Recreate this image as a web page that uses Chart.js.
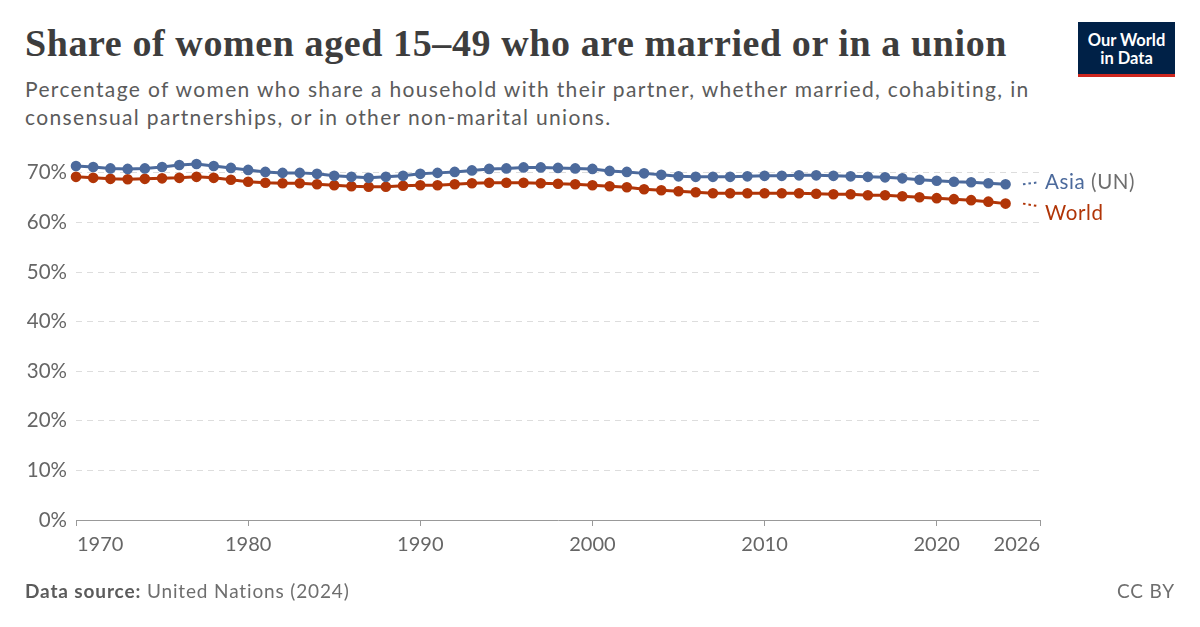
<!DOCTYPE html>
<html>
<head>
<meta charset="utf-8">
<script src="https://cdn.jsdelivr.net/npm/chart.js@4.4.1/dist/chart.umd.min.js"></script>
<style>
  html, body { margin: 0; padding: 0; background: #fff; }
  body { width: 1200px; height: 627px; position: relative; overflow: hidden; font-family: Lato, sans-serif; }
  .fit { white-space: nowrap; display: inline-block; }
  #title { position: absolute; left: 25px; top: 21px; font-family: "Liberation Serif", serif; font-weight: bold; font-size: 38px; color: #3d3d3d; }
  #subtitle { position: absolute; left: 25px; top: 75px; font-size: 21px; line-height: 28px; color: #5b5b5b; }
  #logo { position: absolute; left: 1078px; top: 22px; width: 97px; height: 55px; background: #002147; border-bottom: 3px solid #ce261e; box-sizing: border-box; color: #fff; font-weight: bold; font-size: 16.5px; line-height: 18px; text-align: center; padding-top: 9px; }
  #footer { position: absolute; left: 25px; top: 579px; font-size: 19px; color: #6e6e6e; }
  #footer b { color: #5b5b5b; }
  #cc { position: absolute; right: 25px; top: 579px; font-size: 19px; color: #6e6e6e; }
  #c { position: absolute; left: 0; top: 0; }
</style>
</head>
<body>
<div id="title" class="fit">Share of women aged 15–49 who are married or in a union</div>
<div id="subtitle"><span id="sub1" class="fit">Percentage of women who share a household with their partner, whether married, cohabiting, in</span><br><span id="sub2" class="fit">consensual partnerships, or in other non-marital unions.</span></div>
<div id="logo">Our World<br>in Data</div>
<canvas id="c" width="1200" height="627"></canvas>
<div id="footer" class="fit"><b>Data source:</b> United Nations (2024)</div>
<div id="cc" class="fit">CC BY</div>
<script>
const years = [];
for (let y = 1970; y <= 2024; y++) years.push(y);

const asia = [
  71.4, 71.2, 70.9, 70.8, 70.9, 71.2, 71.6, 71.8, 71.4, 71.0,
  70.6, 70.2, 70.0, 70.0, 69.8, 69.4, 69.2, 69.0, 69.2, 69.4,
  69.8, 70.0, 70.2, 70.5, 70.8, 70.9, 71.1, 71.1, 71.0, 70.9,
  70.8, 70.4, 70.2, 69.9, 69.6, 69.3, 69.2, 69.2, 69.2, 69.3,
  69.4, 69.4, 69.5, 69.5, 69.4, 69.3, 69.2, 69.1, 68.9, 68.6,
  68.4, 68.2, 68.1, 67.9, 67.7
];
const world = [
  69.2, 69.0, 68.8, 68.7, 68.8, 68.9, 69.0, 69.2, 69.0, 68.6,
  68.2, 68.0, 67.9, 67.9, 67.7, 67.5, 67.3, 67.2, 67.2, 67.4,
  67.5, 67.5, 67.7, 67.9, 68.0, 68.0, 68.0, 67.9, 67.8, 67.7,
  67.5, 67.3, 67.1, 66.7, 66.5, 66.3, 66.1, 65.9, 65.9, 65.9,
  65.9, 65.9, 65.9, 65.8, 65.7, 65.7, 65.5, 65.5, 65.3, 65.1,
  64.9, 64.7, 64.5, 64.2, 63.8
];
const xTicks = [1970, 1980, 1990, 2000, 2010, 2020, 2026];
const yTicks = [0, 10, 20, 30, 40, 50, 60, 70];

const ASIA_C = '#4c6a9c', WORLD_C = '#b13507';

function fitWidth(id, target) {
  const el = document.getElementById(id);
  el.style.letterSpacing = '0px';
  const w = el.getBoundingClientRect().width;
  const n = el.textContent.length;
  el.style.letterSpacing = ((target - w) / n) + 'px';
}
fitWidth('title', 982);
fitWidth('sub1', 1005);
fitWidth('footer', 325);
fitWidth('cc', 58);
document.getElementById('sub2').style.letterSpacing = document.getElementById('sub1').style.letterSpacing;

const labelPlugin = {
  id: 'endLabels',
  afterDatasetsDraw(chart) {
    const ctx = chart.ctx;
    const labels = [
      { idx: 0, parts: [['Asia', ASIA_C], [' (UN)', '#6e6e6e']], color: ASIA_C },
      { idx: 1, parts: [['World', WORLD_C]], color: WORLD_C }
    ];
    let prev = -Infinity;
    labels.forEach(l => {
      const pts = chart.getDatasetMeta(l.idx).data;
      const p = pts[pts.length - 1];
      let ly = Math.max(p.y - 2, prev + 31);
      prev = ly;
      ctx.save();
      ctx.strokeStyle = l.color;
      ctx.lineWidth = 2;
      ctx.setLineDash([2.5, 3]);
      ctx.beginPath();
      ctx.moveTo(1023, p.y);
      ctx.lineTo(1039, ly - (l.idx ? 7 : 0));
      ctx.stroke();
      ctx.restore();
      ctx.save();
      ctx.font = '20.5px Lato';
      ctx.letterSpacing = '0.6px';
      ctx.textBaseline = 'middle';
      let x = 1045;
      l.parts.forEach(([t, c]) => {
        ctx.fillStyle = c;
        ctx.fillText(t, x, ly);
        x += ctx.measureText(t).width;
      });
      ctx.restore();
    });
  }
};

const xLabelPlugin = {
  id: 'xLabels',
  afterDraw(chart) {
    const ctx = chart.ctx;
    const sx = chart.scales.x;
    ctx.save();
    ctx.font = '20px Lato';
    ctx.fillStyle = '#666';
    ctx.textBaseline = 'middle';
    xTicks.forEach((v, i) => {
      const px = sx.getPixelForValue(v);
      ctx.textAlign = i === 0 ? 'left' : (i === xTicks.length - 1 ? 'right' : 'center');
      ctx.fillText(String(v), i === 0 ? px + 1 : px, 545);
    });
    ctx.restore();
  }
};

new Chart(document.getElementById('c'), {
  type: 'line',
  data: {
    labels: years,
    datasets: [
      { label: 'Asia (UN)', data: years.map((y, i) => ({ x: y, y: asia[i] })), borderColor: ASIA_C, backgroundColor: ASIA_C, borderWidth: 3, pointRadius: 3.8, pointHoverRadius: 3.8, clip: false, tension: 0 },
      { label: 'World', data: years.map((y, i) => ({ x: y, y: world[i] })), borderColor: WORLD_C, backgroundColor: WORLD_C, borderWidth: 3, pointRadius: 3.8, pointHoverRadius: 3.8, clip: false, tension: 0 }
    ]
  },
  options: {
    responsive: false,
    animation: false,
    events: [],
    layout: { padding: { left: 0, top: 158, right: 160, bottom: 0 } },
    plugins: { legend: { display: false }, tooltip: { enabled: false } },
    scales: {
      x: {
        type: 'linear', min: 1970, max: 2026,
        afterBuildTicks: s => { s.ticks = xTicks.map(v => ({ value: v })); },
        afterFit: s => { s.height = 107; },
        ticks: { display: false },
        grid: { drawOnChartArea: false, drawTicks: true, tickLength: 6, color: '#999', lineWidth: 1 },
        border: { display: true, color: '#999', width: 1 }
      },
      y: {
        min: 0, max: 73,
        afterBuildTicks: s => { s.ticks = yTicks.map(v => ({ value: v })); },
        afterFit: s => { s.width = 76; },
        ticks: { color: '#666', font: { family: 'Lato', size: 20.5 }, padding: 9, callback: v => v + '%' },
        grid: { color: '#ddd', lineWidth: 1, drawTicks: false },
        border: { display: false, dash: [6, 5] }
      }
    }
  },
  plugins: [labelPlugin, xLabelPlugin]
});
</script>
</body>
</html>
